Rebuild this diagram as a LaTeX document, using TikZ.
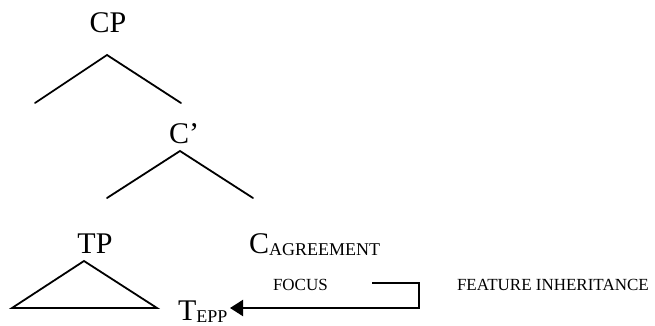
\documentclass[tikz,border=0pt]{standalone}
\usepackage{fontspec}
\setmainfont{Liberation Serif}
\usetikzlibrary{arrows.meta}
\newcommand{\bigf}{\fontsize{30}{30}\selectfont}
\newcommand{\subf}{\fontsize{18}{18}\selectfont}
\newcommand{\smallf}{\fontsize{17}{17}\selectfont}
\tikzset{
  lbl/.style={inner sep=0pt, outer sep=0pt, anchor=base},
  lblw/.style={inner sep=0pt, outer sep=0pt, anchor=base west},
  branch/.style={line width=1.8pt, line cap=round, line join=miter},
  inherit/.style={line width=2pt, -{Triangle[length=13pt,width=16pt]}},
}
\begin{document}
\begin{tikzpicture}[x=1pt,y=-1pt]
\useasboundingbox (0,0) rectangle (655,326);
% labels
\node[lbl] (cp) at (108,33) {\bigf CP};
\node[lblw] (cbar) at (169,143) {\bigf C’};
\node[lbl] (tp) at (95,253) {\bigf TP};
\node[lblw] (cagr) at (249,253) {\bigf C\raisebox{-2.5pt}{\subf AGREEMENT}};
\node[lblw] (focus) at (273,290) {\smallf FOCUS};
\node[lblw] (fi) at (457,290) {\smallf FEATURE INHERITANCE};
\node[lblw] (tepp) at (178,320) {\bigf T\raisebox{-2.5pt}{\subf EPP}};
% tree coordinates
\coordinate (cpTop) at (107,55);
\coordinate (cpL) at (35,103);
\coordinate (cpR) at (181,103);
\coordinate (cbTop) at (180,151);
\coordinate (cbL) at (107,198);
\coordinate (cbR) at (253,198);
\coordinate (tpTop) at (84,261);
\coordinate (tpL) at (12,308);
\coordinate (tpR) at (157,308);
\draw[branch] (cpL) -- (cpTop) -- (cpR);
\draw[branch] (cbL) -- (cbTop) -- (cbR);
\draw[branch] (tpTop) -- (tpL) -- (tpR) -- cycle;
% feature inheritance arrow
\coordinate (hookS) at (372,283);
\coordinate (hookC1) at (419,283);
\coordinate (hookC2) at (419,308);
\coordinate (tgt) at (230,308);
\draw[inherit] (hookS) -- (hookC1) -- (hookC2) -- (tgt);
\end{tikzpicture}
\end{document}
